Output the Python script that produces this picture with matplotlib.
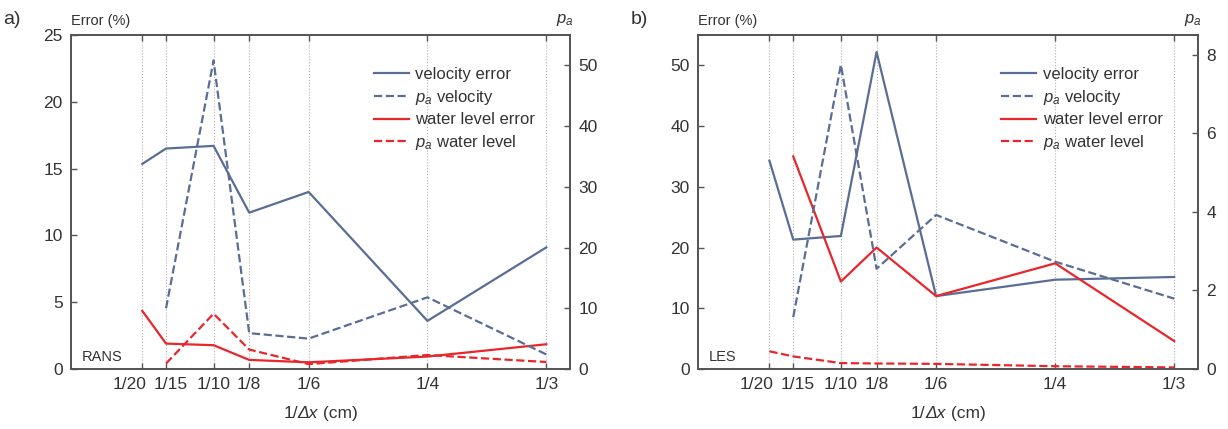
import matplotlib.pyplot as plt
from matplotlib.transforms import ScaledTranslation
from matplotlib.offsetbox import TextArea, HPacker, AnchoredOffsetbox

plt.rcParams['font.family'] = ['Liberation Sans', 'DejaVu Sans']
plt.rcParams['mathtext.fontset'] = 'custom'
plt.rcParams['mathtext.rm'] = 'Liberation Sans'
plt.rcParams['mathtext.it'] = 'Liberation Sans:italic'

# x positions: 1/dx (1/cm)
x_labels = ['1/20', '1/15', '1/10', '1/8', '1/6', '1/4', '1/3']
x_vals = [1/20, 1/15, 1/10, 1/8, 1/6, 1/4, 1/3]

# RANS (panel a)
rans_vel_err = [15.35, 16.5, 16.7, 11.7, 13.25, 3.6, 9.1]
rans_pa_vel = [10.0, 50.8, 5.9, 5.0, 11.8, 2.4]            # from 1/15
rans_wl_err = [4.35, 1.9, 1.78, 0.68, 0.5, 0.93, 1.85]
rans_pa_wl = [0.9, 9.1, 3.2, 0.8, 2.3, 1.15]               # from 1/15

# LES (panel b)
les_vel_err = [34.3, 21.3, 21.9, 52.2, 12.0, 14.7, 15.15]
les_pa_vel = [1.32, 7.74, 2.55, 3.92, 2.73, 1.79]          # from 1/15
les_wl_err = [35.0, 14.4, 20.0, 12.0, 17.4, 4.6]           # from 1/15
les_pa_wl = [0.45, 0.32, 0.15, 0.14, 0.13, 0.07, 0.04]

BLUE = '#5a6d95'
RED = '#e8262b'
SPINE = '#555555'
TXT = '#333333'

fig = plt.figure(figsize=(12.28, 4.29), dpi=100)


def panel(rect, letter, tag, vel_err, pa_vel, wl_err, pa_wl,
          ylim, yticks, y2lim, y2ticks):
    ax = fig.add_axes(rect)
    ax2 = ax.twinx()

    # x positions for each series (series may start at 1/15)
    xv = x_vals[-len(vel_err):]
    xpv = x_vals[-len(pa_vel):]
    xw = x_vals[-len(wl_err):]
    xpw = x_vals[-len(pa_wl):]

    for xx in x_vals:
        ax.axvline(xx, color='#b0b0b0', lw=0.8, ls=':', zorder=0)

    l1, = ax.plot(xv, vel_err, color=BLUE, lw=1.6, label='velocity error')
    l3, = ax.plot(xw, wl_err, color=RED, lw=1.6, label='water level error')
    l2, = ax2.plot(xpv, pa_vel, color=BLUE, lw=1.6, ls='--',
                   label='$\\mathit{p}_{a}$ velocity')
    l4, = ax2.plot(xpw, pa_wl, color=RED, lw=1.6, ls='--',
                   label='$\\mathit{p}_{a}$ water level')

    ax.set_xlim(0, 0.35)
    ax.set_ylim(*ylim)
    ax.set_yticks(yticks)
    ax2.set_ylim(*y2lim)
    ax2.set_yticks(y2ticks)
    ax.set_xticks(x_vals)
    ax.set_xticklabels(x_labels)

    for a in (ax, ax2):
        for s in a.spines.values():
            s.set_color(SPINE)
            s.set_linewidth(1.3)
        a.tick_params(direction='in', length=4, width=1.0, color=SPINE,
                      labelsize=12.5, labelcolor=TXT, pad=6)
    ax.tick_params(axis='x', top=True)

    # nudge the two crowded labels apart, as in the original
    tl = ax.get_xticklabels()
    tl[0].set_transform(tl[0].get_transform() + ScaledTranslation(-9/72, 0, fig.dpi_scale_trans))
    tl[1].set_transform(tl[1].get_transform() + ScaledTranslation(3/72, 0, fig.dpi_scale_trans))

    # x label with italic Delta x
    tp = dict(fontsize=12.5, color=TXT)
    parts = [TextArea('1/', textprops=tp),
             TextArea('Δx', textprops=dict(tp, fontstyle='italic')),
             TextArea(' (cm)', textprops=tp)]
    box = HPacker(children=parts, pad=0, sep=0, align='baseline')
    ab = AnchoredOffsetbox(loc='upper center', child=box, pad=0, borderpad=0,
                           frameon=False, bbox_to_anchor=(0.5, -0.112),
                           bbox_transform=ax.transAxes)
    ax.add_artist(ab)

    ax.text(0.0, 1.02, 'Error (%)', transform=ax.transAxes, fontsize=10.5,
            color=TXT, ha='left', va='bottom')
    ax2.text(0.99, 1.02, '$\\mathit{p}_{a}$', transform=ax.transAxes, fontsize=12,
             color=TXT, ha='center', va='bottom')
    ax.text(0.022, 0.015, tag, transform=ax.transAxes, fontsize=10.5,
            color=TXT, ha='left', va='bottom')
    fig.text(rect[0] - 0.055, 0.935, letter, fontsize=14, color=TXT,
             ha='left', va='bottom')

    ax2.legend([l1, l2, l3, l4], [h.get_label() for h in (l1, l2, l3, l4)],
               loc='upper left', bbox_to_anchor=(0.59, 0.93), frameon=False,
               fontsize=12, handlelength=2.1, handletextpad=0.4,
               labelspacing=0.35, borderpad=0, labelcolor=TXT)


panel([0.0578, 0.1399, 0.4064, 0.7786], 'a)', 'RANS',
      rans_vel_err, rans_pa_vel, rans_wl_err, rans_pa_wl,
      (0, 25), [0, 5, 10, 15, 20, 25], (0, 55), [0, 10, 20, 30, 40, 50])
panel([0.5684, 0.1399, 0.4072, 0.7786], 'b)', 'LES',
      les_vel_err, les_pa_vel, les_wl_err, les_pa_wl,
      (0, 55), [0, 10, 20, 30, 40, 50], (0, 8.5), [0, 2, 4, 6, 8])

fig.savefig('out.png', dpi=100)
